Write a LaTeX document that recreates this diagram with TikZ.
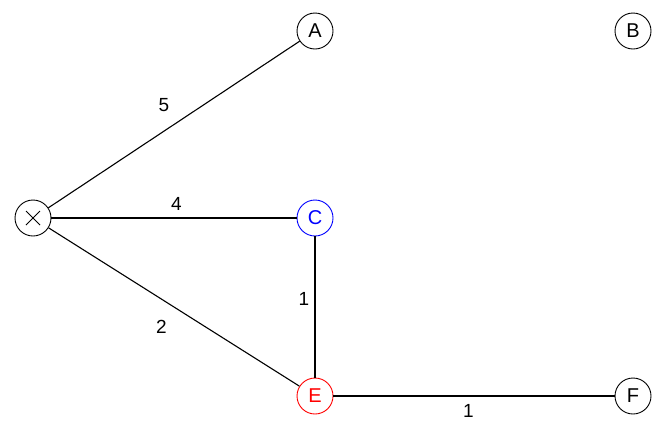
\documentclass[tikz,border=0pt]{standalone}
\usepackage{fontspec}
\setmainfont{Liberation Sans}
\usepackage{tikz}
\usetikzlibrary{positioning,calc}
\definecolor{vblue}{RGB}{0,0,255}
\definecolor{vred}{RGB}{255,0,0}

\begin{document}
\begin{tikzpicture}[x=1pt,y=-1pt,
 vtx/.style={draw,circle,minimum size=36pt,inner sep=0pt,line width=0.9pt,font=\fontsize{20}{22}\selectfont},
 edg/.style={line width=1.1pt},
 wgt/.style={font=\fontsize{19}{21}\selectfont,inner sep=0pt}
]
\useasboundingbox (0,0) rectangle (655,421);
\node[vtx] (X) at (33,218) {};
\draw[line width=0.9pt] ($(X)+(-7,-7)$) -- ($(X)+(7,7)$) ($(X)+(-7,7)$) -- ($(X)+(7,-7)$);
\node[vtx] (A) at (315,31) {A};
\node[vtx] (B) at (633,31) {B};
\node[vtx,draw=vblue,text=vblue] (C) at (315,218) {C};
\node[vtx,draw=vred,text=vred] (E) at (315,396) {E};
\node[vtx] (F) at (633,396) {F};
\draw[edg] (X) -- node[wgt,pos=0.46,yshift=26pt] {5} (A);
\draw[edg] (X) -- node[wgt,pos=0.51,yshift=14pt] {4} (C);
\draw[edg] (X) -- node[wgt,pos=0.45,yshift=-28pt] {2} (E);
\draw[edg] (C) -- node[wgt,pos=0.44,xshift=-11pt] {1} (E);
\draw[edg] (E) -- node[wgt,pos=0.48,yshift=-15pt] {1} (F);
\end{tikzpicture}
\end{document}
